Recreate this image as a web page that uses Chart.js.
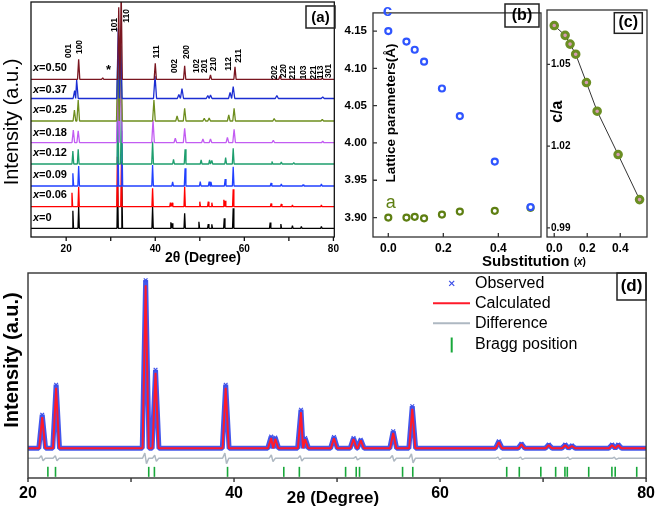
<!DOCTYPE html>
<html>
<head>
<meta charset="utf-8">
<title>XRD and lattice parameters</title>
<script src="https://cdn.jsdelivr.net/npm/chart.js@4.4.1/dist/chart.umd.min.js"></script>
<style>
  body { margin: 0; background: #fff; }
  #wrap { position: relative; width: 661px; height: 510px; overflow: hidden; }
  #wrap canvas { position: absolute; }
</style>
</head>
<body>
<div id="wrap">
  <canvas id="chartA" width="345" height="270" style="left:0;top:0"></canvas>
  <canvas id="chartB" width="270" height="270" style="left:330px;top:0"></canvas>
  <canvas id="chartC" width="121" height="270" style="left:540px;top:0"></canvas>
  <canvas id="chartD" width="661" height="248" style="left:0;top:262px"></canvas>
</div>
<script>
// ---------- data ----------
var compositions = ['0', '0.06', '0.09', '0.12', '0.18', '0.25', '0.37', '0.50'];

// panel (a): [2theta, peak height] for each sample
var peaksX000 = [[21.5,17.6],[22.8,21.6],[31.55,45],[32.5,42],[39.4,21.6],[43.5,6],[43.8,5],[46.6,15],[49.8,6.6],[51.9,4.3],[52.7,4],[55.5,10],[57.5,20],[65.8,5.7],[68.2,4.3],[70.8,2.7],[72.8,1.7],[77.3,1.7]];
var peaksX006 = [[21.3,14],[22.8,20],[31.5,50],[32.4,45],[39.4,18.4],[43.4,4],[43.8,4],[46.6,20],[50.0,5],[51.9,5],[52.7,4],[55.4,7],[55.7,6],[57.5,17.4],[66.0,3.3],[68.3,2.7],[70.8,1.7],[77.3,1.7]];
var peaksX009 = [[21.5,12.7],[22.8,20],[31.6,60],[32.5,55],[39.4,21],[43.9,4],[46.7,17.7],[50.1,4.3],[52.1,4.5],[52.5,4],[55.7,7],[57.5,19.3],[66.0,3],[68.3,2],[73.2,1.5],[77.3,2]];
var peaksX012 = [[21.5,13],[22.7,14.7],[31.6,65],[32.4,60],[39.4,22.3],[44.1,4.7],[46.7,14.7],[50.3,4],[52.2,4],[52.7,3.5],[55.8,6.3],[57.5,15.7],[66.2,2.5],[68.3,2],[71.1,1.5]];
var peaksX018 = [[21.6,12.7],[22.7,12],[31.6,55],[32.3,70],[39.5,22.7],[44.5,4.4],[46.6,14.4],[50.7,3.7],[52.4,3.7],[56.2,5.4],[57.7,13.4],[66.5,2.5],[77.6,1.5]];
var peaksX025 = [[21.85,11],[22.7,21],[31.6,65],[32.3,75],[39.7,21],[44.9,5],[46.6,12.7],[51.0,2.7],[52.1,3],[56.5,6],[57.7,12.7],[66.7,2.5],[77.5,1.5]];
var peaksX037 = [[21.9,8],[22.35,18.5],[31.7,70],[32.2,62],[39.95,22.5],[45.3,4],[46.0,10],[51.8,3],[52.4,3.5],[56.8,6],[57.5,12],[67.3,3],[77.6,1.5]];
var peaksX050 = [[22.8,20],[28.2,1.5],[31.8,72],[32.35,90],[40.0,16],[46.6,13.6],[52.4,4.3],[57.9,12.6],[68.0,3.3],[77.5,1.5]];
var patternPeaks = [peaksX000, peaksX006, peaksX009, peaksX012, peaksX018, peaksX025, peaksX037, peaksX050];
var hklLabels = ['001','100','101','110','111','002','200','102','201','210','112','211','202','220','212','103','221','113','301'];

// panels (b) and (c)
var substitution = [0, 0.066, 0.096, 0.13, 0.195, 0.26, 0.387, 0.517];
var latticeC = [4.150, 4.136, 4.125, 4.109, 4.073, 4.036, 3.975, 3.914];
var latticeA = [3.900, 3.900, 3.901, 3.899, 3.904, 3.908, 3.909, 3.913];
var ratioCA = [1.0642, 1.0606, 1.0574, 1.0537, 1.0433, 1.0328, 1.0169, 1.0004];

// panel (d): Rietveld fit, [2theta, height above background]
var observedPeaks = [[21.38,16.4],[22.73,31],[31.42,82],[32.38,38.3],[39.19,31],[43.6,5.7],[44.0,5.2],[46.5,18.8],[46.9,5],[49.7,5.5],[51.6,5],[52.3,4.2],[55.45,8.3],[57.3,20.5],[65.7,3.4],[67.9,2.2],[70.55,1.8],[72.15,1.8],[72.8,1.3],[76.7,1.8],[77.3,1.8]];
var calculatedPeaks = [[21.38,15.2],[22.73,29.5],[31.42,79.5],[32.38,36.8],[39.19,29.5],[43.6,5],[44.0,4.6],[46.5,17.6],[46.9,4.4],[49.7,4.9],[51.6,4.5],[52.3,3.8],[55.45,7.5],[57.3,19.2],[65.7,3],[67.9,1.9],[70.55,1.5],[72.15,1.5],[72.8,1.1],[76.7,1.5],[77.3,1.5]];
var differenceSwings = [[21.38,1.2],[22.73,1.2],[31.42,2.6],[32.38,1.5],[39.19,2.6],[43.7,1.6],[46.5,1.3],[51.9,0.8],[55.45,1.4],[57.3,2.2],[65.7,0.6],[67.9,0.5],[72.5,0.5],[77.0,0.5]];
var braggPositions = [21.93,22.67,31.72,32.27,39.37,44.83,46.34,50.83,51.86,52.18,56.36,57.35,66.47,67.69,69.78,71.22,72.12,72.35,74.43,76.68,77.0,79.09];

var tickXA = [20, 30, 40, 50, 60, 70, 80];
var tickXALabels = ['20', '', '40', '', '60', '', '80'];
var tickYB = [3.90, 3.95, 4.00, 4.05, 4.10, 4.15];
var tickXBC = [0, 0.2, 0.4];
var tickYC = [0.99, 1.02, 1.05];
var tickXD = [20, 30, 40, 50, 60, 70, 80];
var tickXDLabels = ['20', '', '40', '', '60', '', '80'];

// ---------- helpers ----------
var F = '"Liberation Sans", Arial, sans-serif';
Chart.defaults.font.family = F;
Chart.defaults.color = '#000';

// narrow triangular peak shapes on a flat background
function peakLine(peaks, base, w, from, to) {
    var pts = [{x: from, y: base}];
    peaks.forEach(function (p, i) {
        var prev = i > 0 ? peaks[i - 1][0] : -1e9;
        var next = i < peaks.length - 1 ? peaks[i + 1][0] : 1e9;
        var l = Math.max(p[0] - w, (prev + p[0]) / 2);
        var r = Math.min(p[0] + w, (p[0] + next) / 2);
        pts.push({x: l, y: base}, {x: p[0], y: base + p[1], top: true}, {x: r, y: base});
    });
    pts.push({x: to, y: base});
    return pts;
}

function swingLine(swings, base, from, to) {
    var pts = [{x: from, y: base}];
    swings.forEach(function (s) {
        pts.push({x: s[0] - 0.3, y: base}, {x: s[0] - 0.08, y: base + s[1]},
                 {x: s[0] + 0.08, y: base - s[1]}, {x: s[0] + 0.3, y: base});
    });
    pts.push({x: to, y: base});
    return pts;
}

function fixedTicks(values) {
    return function (scale) { scale.ticks = values.map(function (v) { return {value: v}; }); };
}

var notes = {
    id: 'notes',
    afterDatasetsDraw: function (chart, args, o) {
        if (!o || !o.on) return;
        var ctx = chart.ctx, a = chart.chartArea;
        ctx.save();
        ctx.lineWidth = o.frameWidth;
        ctx.strokeStyle = o.frameColor;
        ctx.strokeRect(a.left, a.top, a.right - a.left, a.bottom - a.top);
        (o.marks || []).forEach(function (m) {
            var s = chart.scales[m.scale];
            ctx.beginPath();
            m.values.forEach(function (v) {
                var p = s.getPixelForValue(v);
                if (s.isHorizontal()) {
                    ctx.moveTo(p, a.bottom);
                    ctx.lineTo(p, a.bottom + (m.inside ? -m.len : m.len));
                } else {
                    ctx.moveTo(a.left, p);
                    ctx.lineTo(a.left + (m.inside ? m.len : -m.len), p);
                }
            });
            ctx.stroke();
        });
        ctx.translate(-o.ox, -o.oy);
        (o.boxes || []).forEach(function (b) {
            ctx.lineWidth = 1.5;
            ctx.strokeStyle = '#222';
            ctx.strokeRect(b[0], b[1], b[2], b[3]);
        });
        (o.lines || []).forEach(function (l) {
            ctx.beginPath();
            ctx.lineWidth = l.width;
            ctx.strokeStyle = l.color;
            ctx.moveTo(l.x1, l.y1);
            ctx.lineTo(l.x2, l.y2);
            ctx.stroke();
        });
        (o.texts || []).forEach(function (t) {
            ctx.save();
            ctx.translate(t.x, t.y);
            if (t.rot) ctx.rotate(t.rot * Math.PI / 180);
            ctx.fillStyle = t.color || '#000';
            ctx.textAlign = t.align || 'center';
            ctx.textBaseline = t.base || 'middle';
            if (t.parts) {
                var x = 0;
                t.parts.forEach(function (p) {
                    ctx.font = p[1];
                    ctx.fillText(p[0], x, 0);
                    x += ctx.measureText(p[0]).width;
                });
            } else {
                ctx.font = t.font;
                ctx.fillText(t.t, 0, 0);
            }
            ctx.restore();
        });
        ctx.restore();
    }
};
Chart.register(notes);

var hidden = {legend: {display: false}, tooltip: {enabled: false}};

// ---------- panel (a) ----------
var offsetsA = [8.7, 30.3, 51, 73, 94.3, 116, 138.5, 157.7];
var widthsA = [0.15, 0.15, 0.18, 0.2, 0.3, 0.3, 0.35, 0.25];
var colorsA = ['#000000', '#FF0000', '#2040FF', '#1E9E6E', '#C25CF2', '#6E8E1E', '#1C2ED2', '#7A1620'];
var labelYA = [218.3, 195, 175, 153.3, 132.7, 110, 90, 68.3];
var hklPosA = [[68.3,51],[80,47],[115,25],[126.7,16],[156.7,52],[175,66],[186.7,52],[196.7,66],[205,66],[213.3,64],
               [228.3,64],[238.3,56],[275,72.5],[283.3,71],[292.7,72.5],[304,72.5],[313.3,72.5],[320.5,72.5],[328.3,71]];

var textsA = [
    {t: 'Intensity (a.u.)', x: 12, y: 122, rot: -90, font: '20px ' + F},
    {t: '2\u03b8 (Degree)', x: 203, y: 258, font: 'bold 14px ' + F},
    {t: '*', x: 108.5, y: 70, font: 'bold 13px ' + F},
    {t: '(a)', x: 320.5, y: 17.5, font: 'bold 15px ' + F}
];
compositions.forEach(function (c, i) {
    textsA.push({parts: [['x', 'italic bold 11px ' + F], ['=' + c, 'bold 11px ' + F]], x: 33, y: labelYA[i], align: 'left'});
});
hklLabels.forEach(function (h, i) {
    textsA.push({t: h, x: hklPosA[i][0], y: hklPosA[i][1], rot: -90, font: 'bold 8.5px ' + F});
});

new Chart(document.getElementById('chartA'), {
    type: 'scatter',
    data: {
        datasets: patternPeaks.map(function (pk, i) {
            return {
                data: peakLine(pk, offsetsA[i], widthsA[i], 12.1, 80.2),
                showLine: true, pointRadius: 0, borderWidth: 1.3, borderJoinStyle: 'bevel',
                borderColor: colorsA[i], order: 10 - i
            };
        })
    },
    options: {
        responsive: false, animation: false,
        layout: {padding: {left: 0, top: 2, right: 7, bottom: 0}},
        plugins: Object.assign({}, hidden, {notes: {
            on: true, ox: 0, oy: 0, frameWidth: 1.3, frameColor: '#111',
            marks: [{scale: 'x', values: tickXA, len: 4, inside: false}],
            boxes: [[306, 6, 29, 22]],
            texts: textsA
        }}),
        scales: {
            x: {type: 'linear', min: 12.1, max: 80.2,
                grid: {display: false, drawTicks: false}, border: {display: false},
                afterBuildTicks: fixedTicks(tickXA),
                ticks: {callback: function (v, i) { return tickXALabels[i]; }, autoSkip: false, maxRotation: 0,
                        padding: 6, font: {size: 10, weight: 'bold'}},
                afterFit: function (s) { s.height = 33; }},
            y: {min: 0, max: 235, grid: {display: false, drawTicks: false}, border: {display: false},
                ticks: {display: false}, afterFit: function (s) { s.width = 31; }}
        }
    }
});

// ---------- panel (b) ----------
new Chart(document.getElementById('chartB'), {
    type: 'scatter',
    data: {
        datasets: [
            {data: substitution.map(function (x, i) { return {x: x, y: latticeC[i]}; }),
             pointRadius: 3, pointBorderWidth: 2.2, pointBorderColor: '#2F55FF', pointBackgroundColor: '#fff', order: 0},
            {data: substitution.map(function (x, i) { return {x: x, y: latticeA[i]}; }),
             pointRadius: 3, pointBorderWidth: 2.2, pointBorderColor: '#5E7F12', pointBackgroundColor: '#fff', order: 1}
        ]
    },
    options: {
        responsive: false, animation: false,
        layout: {padding: {left: 0, top: 3, right: 59, bottom: 0}},
        plugins: Object.assign({}, hidden, {notes: {
            on: true, ox: 330, oy: 0, frameWidth: 1.3, frameColor: '#333',
            marks: [{scale: 'x', values: tickXBC, len: 4, inside: true},
                    {scale: 'y', values: tickYB, len: 4, inside: true}],
            boxes: [[505, 4, 34, 23]],
            texts: [
                {t: 'Lattice parameters(\u00c5)', x: 391.7, y: 113, rot: -90, font: 'bold 13.5px ' + F},
                {t: 'c', x: 387.5, y: 16, base: 'alphabetic', color: '#2F55FF', font: 'bold 17px ' + F},
                {t: 'a', x: 390.8, y: 208, base: 'alphabetic', color: '#5E7F12', font: '18px ' + F},
                {t: '(b)', x: 522, y: 15.5, font: 'bold 16px ' + F},
                {parts: [['Substitution ', 'bold 15px ' + F], ['(', 'bold 10px ' + F], ['x', 'italic bold 10px ' + F], [')', 'bold 10px ' + F]],
                 x: 482, y: 262, align: 'left'}
            ]
        }}),
        scales: {
            x: {type: 'linear', min: -0.0556, max: 0.555,
                grid: {display: false, drawTicks: false}, border: {display: false},
                afterBuildTicks: fixedTicks(tickXBC),
                ticks: {callback: function (v) { return v.toFixed(1); }, autoSkip: false, maxRotation: 0,
                        padding: 4, font: {size: 12, weight: 'bold'}},
                afterFit: function (s) { s.height = 33; }},
            y: {min: 3.8739, max: 4.1744, grid: {display: false, drawTicks: false}, border: {display: false},
                afterBuildTicks: fixedTicks(tickYB),
                ticks: {callback: function (v) { return v.toFixed(2); }, padding: 6, font: {size: 11.5, weight: 'bold'}},
                afterFit: function (s) { s.width = 43; }}
        }
    }
});

// ---------- panel (c) ----------
new Chart(document.getElementById('chartC'), {
    type: 'scatter',
    data: {
        datasets: [{
            data: substitution.map(function (x, i) { return {x: x, y: ratioCA[i]}; }),
            showLine: true, borderColor: '#333', borderWidth: 1,
            pointRadius: 3.3, pointBorderWidth: 3, pointBorderColor: '#6B8E23', pointBackgroundColor: '#D79AB4'
        }]
    },
    options: {
        responsive: false, animation: false,
        layout: {padding: {left: 0, top: 3, right: 14, bottom: 0}},
        plugins: Object.assign({}, hidden, {notes: {
            on: true, ox: 540, oy: 0, frameWidth: 1.3, frameColor: '#333',
            marks: [{scale: 'x', values: tickXBC, len: 4, inside: true},
                    {scale: 'y', values: tickYC, len: 3, inside: true}],
            boxes: [[614.3, 12.7, 28, 20.6]],
            texts: [
                {t: 'c/a', x: 558, y: 111.7, rot: -90, font: 'bold 16px ' + F},
                {t: '(c)', x: 628.3, y: 23, font: 'bold 16px ' + F}
            ]
        }}),
        scales: {
            x: {type: 'linear', min: -0.0438, max: 0.562,
                grid: {display: false, drawTicks: false}, border: {display: false},
                afterBuildTicks: fixedTicks(tickXBC),
                ticks: {callback: function (v) { return v.toFixed(1); }, autoSkip: false, maxRotation: 0,
                        padding: 4, font: {size: 12, weight: 'bold'}},
                afterFit: function (s) { s.height = 33; }},
            y: {min: 0.98668, max: 1.0699, grid: {display: false, drawTicks: false}, border: {display: false},
                afterBuildTicks: fixedTicks(tickYC),
                ticks: {mirror: true, callback: function (v) { return v.toFixed(2); }, padding: 4,
                        font: {size: 10, weight: 'bold'}},
                afterFit: function (s) { s.width = 6; }}
        }
    }
});

// ---------- panel (d) ----------
var baseD = 14.5, diffBaseD = 9.6, braggRowD = 3.0;
new Chart(document.getElementById('chartD'), {
    type: 'scatter',
    data: {
        datasets: [
            {data: peakLine(calculatedPeaks, baseD, 0.3, 20, 80), showLine: true, pointRadius: 0,
             borderColor: '#FF1A2A', borderWidth: 2, borderJoinStyle: 'bevel', order: 0},
            {data: peakLine(observedPeaks, baseD, 0.33, 20, 80), showLine: true,
             pointRadius: function (c) { return c.raw && c.raw.top ? 2.6 : 0; },
             pointStyle: 'crossRot', pointBorderColor: '#3C4FE8', pointBorderWidth: 1.2,
             borderColor: '#4357EC', borderWidth: 5, borderJoinStyle: 'bevel', order: 1},
            {data: swingLine(differenceSwings, diffBaseD, 20, 80), showLine: true, pointRadius: 0,
             borderColor: '#AEB8C2', borderWidth: 1.5, borderJoinStyle: 'bevel', order: 2},
            {data: braggPositions.map(function (p) { return {x: p, y: braggRowD}; }),
             pointStyle: 'line', rotation: 90, pointRadius: 5, pointBorderWidth: 1.6, pointBorderColor: '#18A83A', order: 3}
        ]
    },
    options: {
        responsive: false, animation: false,
        layout: {padding: {left: 0, top: 11, right: 10, bottom: 0}},
        plugins: Object.assign({}, hidden, {notes: {
            on: true, ox: 0, oy: 262, frameWidth: 1.4, frameColor: '#333',
            marks: [{scale: 'x', values: tickXD, len: 4, inside: false}],
            boxes: [[617, 273, 29, 27]],
            lines: [
                {x1: 449.2, y1: 280.8, x2: 454.2, y2: 285.8, color: '#3C4FE8', width: 1.2},
                {x1: 449.2, y1: 285.8, x2: 454.2, y2: 280.8, color: '#3C4FE8', width: 1.2},
                {x1: 433, y1: 303.3, x2: 470, y2: 303.3, color: '#FF1A2A', width: 2},
                {x1: 433, y1: 323.3, x2: 470, y2: 323.3, color: '#AEB8C2', width: 2},
                {x1: 451.7, y1: 337.5, x2: 451.7, y2: 352.5, color: '#18A83A', width: 2}
            ],
            texts: [
                {t: 'Intensity (a.u.)', x: 12, y: 360, rot: -90, font: 'bold 20px ' + F},
                {t: '2\u03b8 (Degree)', x: 333, y: 498, font: 'bold 17px ' + F},
                {t: 'Observed', x: 475, y: 283.3, align: 'left', font: '16px ' + F},
                {t: 'Calculated', x: 475, y: 303.3, align: 'left', font: '16px ' + F},
                {t: 'Difference', x: 475, y: 323.3, align: 'left', font: '16px ' + F},
                {t: 'Bragg position', x: 475, y: 345, align: 'left', font: '16px ' + F},
                {t: '(d)', x: 631.5, y: 286.5, font: 'bold 17px ' + F}
            ]
        }}),
        scales: {
            x: {type: 'linear', min: 20, max: 80,
                grid: {display: false, drawTicks: false}, border: {display: false},
                afterBuildTicks: fixedTicks(tickXD),
                ticks: {callback: function (v, i) { return tickXDLabels[i]; }, autoSkip: false, maxRotation: 0,
                        padding: 6, font: {size: 16, weight: 'bold'}},
                afterFit: function (s) { s.height = 32; }},
            y: {min: 0, max: 100, grid: {display: false, drawTicks: false}, border: {display: false},
                ticks: {display: false}, afterFit: function (s) { s.width = 28; }}
        }
    }
});
</script>
</body>
</html>
